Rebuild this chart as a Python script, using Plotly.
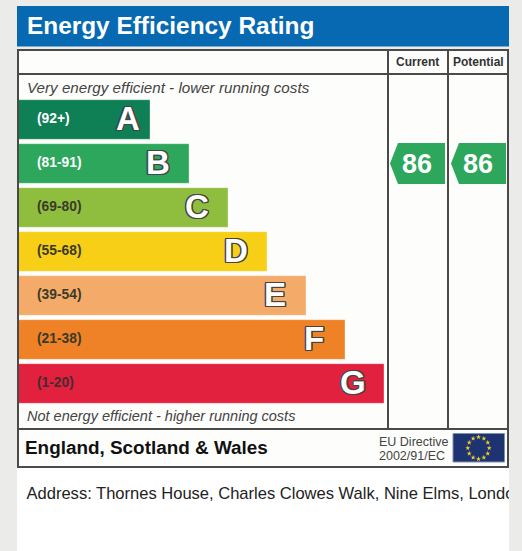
import math
import plotly.graph_objects as go

W, H = 522, 551
FONT = "Liberation Sans"

# ---- data ----
bands = ["A", "B", "C", "D", "E", "F", "G"]
ranges = ["(92+)", "(81-91)", "(69-80)", "(55-68)", "(39-54)", "(21-38)", "(1-20)"]
bar_lengths = [132, 171, 210, 249, 288, 327, 366]
bar_colors = ["#0f7f56", "#2ca75c", "#8fbe3f", "#f7cf17", "#f4ab69", "#ef8126", "#e2213e"]
range_colors = ["#ffffff", "#ffffff", "#3a3a2a", "#3a3a2a", "#3a3a2a", "#3a3a2a", "#4a2a30"]
current_rating = 86
potential_rating = 86
title_text = "Energy Efficiency Rating"
top_note = "Very energy efficient - lower running costs"
bottom_note = "Not energy efficient - higher running costs"
region = "England, Scotland & Wales"
directive = ["EU Directive", "2002/91/EC"]
address = "Address: Thornes House, Charles Clowes Walk, Nine Elms, London"
columns = ["Current", "Potential"]

GRAY = "#ebebe9"
LINE = "#4a4a4a"
d = 1.2
OUT = ",".join(f"{a}px {b}px 0 #444" for a, b in
               [(-d, -d), (d, -d), (-d, d), (d, d), (0, -d), (0, d), (-d, 0), (d, 0)])

fig = go.Figure()

fig.add_trace(go.Bar(
    y=bands, x=bar_lengths, orientation="h", xaxis="x2", yaxis="y2",
    marker=dict(color=bar_colors, line=dict(width=1, color="rgba(255,255,255,0.35)")), width=0.9,
    hoverinfo="skip", showlegend=False,
))


def rect(x0, y0, x1, y1, fill, line=None, w=0, layer="below"):
    return dict(type="rect", xref="x", yref="y", x0=x0, y0=y0, x1=x1, y1=y1, fillcolor=fill,
                line=dict(color=line or fill, width=w), layer=layer)


def hv(x0, y0, x1, y1):
    return dict(type="line", xref="x", yref="y", x0=x0, y0=y0, x1=x1, y1=y1,
                line=dict(color=LINE, width=2), layer="above")


def tag(x0, y0, y1, x1):
    return dict(type="path", xref="x", yref="y",
                path=f"M{x0},{(y0+y1)/2} L{x0+8},{y0} L{x1},{y0} L{x1},{y1} L{x0+8},{y1} Z",
                fillcolor="#2ca75c", line=dict(width=0), layer="above")


shapes = [
    rect(17, 467, 509, 551, "#ffffff"),
    rect(17, 50, 508, 467, "#fdfdfb"),
    rect(17, 6, 509, 46.5, "#0669b2"),
    rect(453, 433.5, 504.5, 462, "#1d3470", "#7f8fb5", 1),
    hv(18, 50, 18, 467), hv(17, 50, 509, 50), hv(17, 74, 508, 74),
    hv(17, 429, 508, 429), hv(17, 467, 509, 467), hv(508, 50, 508, 467),
    hv(388, 50, 388, 429), hv(448, 50, 448, 429),
    tag(390, 143, 184, 445), tag(451, 143, 184, 506),
]


def text(x, y, s, size, color, bold=False, italic=False, anchor="left"):
    t = f"<b>{s}</b>" if bold else s
    t = f"<i>{t}</i>" if italic else t
    return dict(x=x, y=y, xref="x", yref="y", text=t, showarrow=False, xanchor=anchor, yanchor="middle",
                font=dict(family=FONT, size=size, color=color), borderpad=0, borderwidth=0)


ann = [
    text(27, 25.5, title_text, 24.4, "#ffffff", bold=True),
    text(417, 62, columns[0], 12, "#333333", bold=True, anchor="center"),
    text(478.5, 62, columns[1], 12, "#333333", bold=True, anchor="center"),
    text(27, 87, top_note, 15.2, "#444444", italic=True),
    text(27, 416, bottom_note, 14.5, "#444444", italic=True),
    text(25, 447, region, 18.9, "#111111", bold=True),
    text(379, 442, directive[0], 12.5, "#444444"),
    text(379, 456, directive[1], 12.5, "#444444"),
    text(416.5, 163.5, str(current_rating), 27, "#ffffff", bold=True, anchor="center"),
    text(478, 163.5, str(potential_rating), 27, "#ffffff", bold=True, anchor="center"),
]
for b, r, c, n in zip(bands, ranges, range_colors, bar_lengths):
    ann.append(dict(x=0, y=b, xref="x2", yref="y2", text=f"<b>{r}</b>", showarrow=False, xanchor="left",
                    xshift=17, yshift=1, yanchor="middle", font=dict(family=FONT, size=13.8, color=c)))
    ann.append(dict(x=n, y=b, xref="x2", yref="y2", text=f"<b>{b}</b>", showarrow=False, xanchor="center",
                    xshift=-22 if b == "A" else -31.5, yshift=1, yanchor="middle",
                    font=dict(family=FONT, size=33, color="#ffffff", shadow=OUT)))

fig.add_trace(go.Scatter(x=[26.5], y=[495], mode="text", text=[address], textposition="middle right",
                         textfont=dict(family=FONT, size=16.55, color="#222222"), cliponaxis=True,
                         xaxis="x3", yaxis="y3", hoverinfo="skip", showlegend=False))

cx, cy, rx, ry = 478.5, 448, 10.7, 11
sx = [cx + rx * math.sin(i * math.pi / 6) for i in range(12)]
sy = [cy - ry * math.cos(i * math.pi / 6) for i in range(12)]
fig.add_trace(go.Scatter(x=sx, y=sy, mode="markers", xaxis="x", yaxis="y",
                         marker=dict(symbol="star", size=3.8, color="#f2cf2e", line=dict(width=0)),
                         hoverinfo="skip", showlegend=False))

AX = dict(visible=False, fixedrange=True)
fig.update_layout(
    width=W, height=H, margin=dict(l=0, r=0, t=0, b=0, pad=0), autosize=False,
    paper_bgcolor=GRAY, plot_bgcolor="rgba(0,0,0,0)",
    xaxis=dict(range=[0, W], domain=[0, 1], **AX),
    yaxis=dict(range=[H, 0], domain=[0, 1], **AX),
    xaxis3=dict(range=[0, 509], domain=[0, 509 / W], anchor="y3", **AX),
    yaxis3=dict(range=[H, 0], domain=[0, 1], anchor="x3", **AX),
    xaxis2=dict(range=[0, 370], domain=[18 / W, 388 / W], anchor="y2", **AX),
    yaxis2=dict(categoryorder="array", categoryarray=bands[::-1], type="category",
                domain=[1 - 405.5 / H, 1 - 97.5 / H], anchor="x2", **AX),
    shapes=shapes, annotations=ann, bargap=0.1,
)
fig.write_html("out.html", config=dict(displayModeBar=False),
               post_script="document.body.style.margin='0';document.body.style.overflow='hidden';")
